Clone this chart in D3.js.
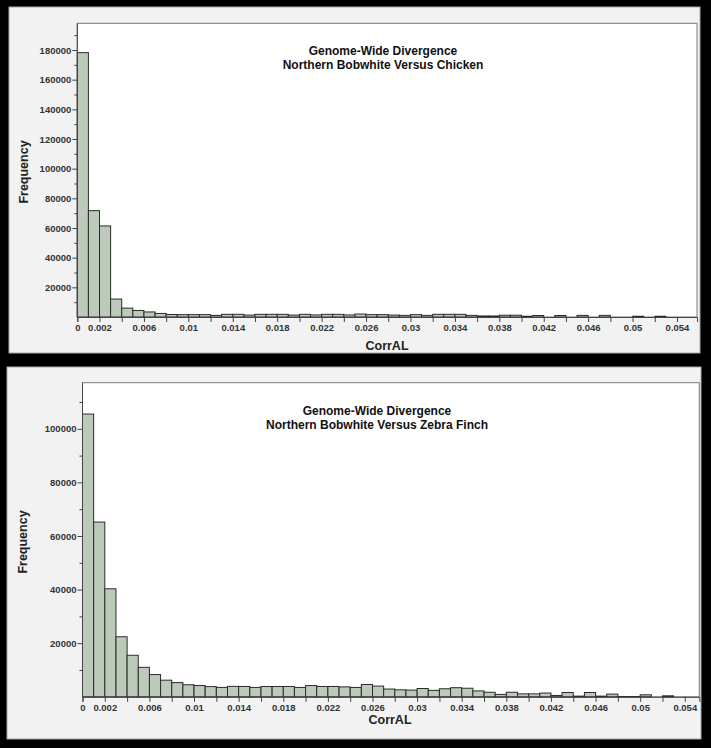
<!DOCTYPE html>
<html>
<head>
<meta charset="utf-8">
<script src="https://cdn.jsdelivr.net/npm/d3@7/dist/d3.min.js"></script>
<style>
  html, body { margin: 0; padding: 0; background: #000; }
  svg { display: block; }
  text { font-family: "Liberation Sans", Arial, sans-serif; }
</style>
</head>
<body>
<svg id="chart" width="711" height="748"></svg>
<script>
// ---- data ----
const binStarts = [0,0.001,0.002,0.003,0.004,0.005,0.006,0.007,0.008,0.009,
  0.010,0.011,0.012,0.013,0.014,0.015,0.016,0.017,0.018,0.019,
  0.020,0.021,0.022,0.023,0.024,0.025,0.026,0.027,0.028,0.029,
  0.030,0.031,0.032,0.033,0.034,0.035,0.036,0.037,0.038,0.039,
  0.040,0.041,0.042,0.043,0.044,0.045,0.046,0.047,0.048,0.049,
  0.050,0.051,0.052,0.053,0.054];
const binWidth = 0.001;

const chickenFreq = [178200,71700,61400,12100,6000,4400,3400,2400,1700,1600,
  1600,1600,1100,1800,1800,1300,1800,1800,1800,1300,
  1800,1400,1800,1800,1400,2000,1600,1600,1300,1100,
  1600,1100,1800,1800,1800,1100,700,700,1200,1200,
  500,1000,0,1000,0,1100,0,1100,0,0,
  500,0,500,0,0];

const zebraFreq = [105500,65200,40300,22400,15500,11000,8300,6200,5300,4500,
  4200,3800,3500,3900,3850,3500,3850,3850,3850,3500,
  4200,3850,3850,3700,3500,4600,4000,2900,2600,2500,
  3100,2400,3000,3400,3200,2200,1700,900,1700,1100,
  1100,1400,500,1600,250,1600,250,1000,100,100,
  750,0,370,0,0];

const xTickMarks = [0,0.002,0.004,0.006,0.008,0.010,0.012,0.014,0.016,0.018,0.020,0.022,0.024,0.026,0.028,0.030,0.032,0.034,0.036,0.038,0.040,0.042,0.044,0.046,0.048,0.050,0.052,0.054];
const xTickLabels = ["0","0.002","0.006","0.01","0.014","0.018","0.022","0.026","0.03","0.034","0.038","0.042","0.046","0.05","0.054"];

const chickenYTicks = [20000,40000,60000,80000,100000,120000,140000,160000,180000];
const chickenYMinor = [10000,30000,50000,70000,90000,110000,130000,150000,170000,190000];
const zebraYTicks = [20000,40000,60000,80000,100000];
const zebraYMinor = [10000,30000,50000,70000,90000,110000];

const titleLine1 = "Genome-Wide Divergence";
const chickenTitle2 = "Northern Bobwhite Versus Chicken";
const zebraTitle2 = "Northern Bobwhite Versus Zebra Finch";
const xLabel = "CorrAL";
const yLabel = "Frequency";

// ---- layout ----
const svg = d3.select("#chart");

const panels = [
  {
    freq: chickenFreq, yTicks: chickenYTicks, yMinor: chickenYMinor, title2: chickenTitle2,
    bg: {x: 9, y: 7, w: 691, h: 346},
    plot: {l: 77.3, r: 697, t: 23.3, b: 317},
    xMax: 0.0558, yMax: 198000,
    titleX: 383, titleY: 55,
    yLabX: 28, yLabY: 172,
    xLabX: 387, xLabY: 350
  },
  {
    freq: zebraFreq, yTicks: zebraYTicks, yMinor: zebraYMinor, title2: zebraTitle2,
    bg: {x: 7, y: 367, w: 694, h: 372},
    plot: {l: 82.5, r: 699.3, t: 382.7, b: 696.8},
    xMax: 0.0553, yMax: 117200,
    titleX: 377, titleY: 415,
    yLabX: 27, yLabY: 542,
    xLabX: 390, xLabY: 724
  }
];

panels.forEach(p => {
  const g = svg.append("g");
  // panel background
  g.append("rect")
    .attr("x", p.bg.x).attr("y", p.bg.y)
    .attr("width", p.bg.w).attr("height", p.bg.h)
    .attr("fill", "#f2f2f2").attr("stroke", "#a8a8a8").attr("stroke-width", 1);

  const x = d3.scaleLinear().domain([0, p.xMax]).range([p.plot.l, p.plot.r]);
  const y = d3.scaleLinear().domain([0, p.yMax]).range([p.plot.b, p.plot.t]);

  // plot area
  g.append("rect")
    .attr("x", p.plot.l).attr("y", p.plot.t)
    .attr("width", p.plot.r - p.plot.l).attr("height", p.plot.b - p.plot.t)
    .attr("fill", "#ffffff").attr("stroke", "#7a7a7a").attr("stroke-width", 1);

  // bars
  g.append("g").selectAll("rect")
    .data(binStarts.map((s, i) => ({x0: s, x1: s + binWidth, v: p.freq[i]})).filter(d => d.v > 0))
    .join("rect")
    .attr("x", d => x(d.x0))
    .attr("y", d => y(d.v))
    .attr("width", d => x(d.x1) - x(d.x0))
    .attr("height", d => y(0) - y(d.v))
    .attr("fill", "#bccbb9")
    .attr("stroke", "#2b2b2b")
    .attr("stroke-width", 1);

  // x axis
  const xAxis = d3.axisBottom(x)
    .tickValues(xTickMarks)
    .tickSize(5)
    .tickFormat(d => {
      const lbl = xTickLabels.find(l => Math.abs(+l - d) < 1e-9);
      return lbl === undefined ? "" : lbl;
    });
  const gx = g.append("g").attr("transform", `translate(0,${p.plot.b})`).call(xAxis);
  gx.select(".domain").attr("stroke", "#444");
  gx.selectAll(".tick line").attr("stroke", "#444");
  gx.selectAll(".tick text")
    .attr("font-family", "Liberation Sans, Arial, sans-serif")
    .attr("font-size", "9.5px").attr("font-weight", "bold").attr("fill", "#333")
    .attr("dy", "0.75em").attr("y", 7);

  // y axis major
  const yAxis = d3.axisLeft(y).tickValues(p.yTicks).tickSize(5).tickFormat(d3.format("d"));
  const gy = g.append("g").attr("transform", `translate(${p.plot.l},0)`).call(yAxis);
  gy.select(".domain").remove();
  gy.selectAll(".tick line").attr("stroke", "#444");
  gy.selectAll(".tick text")
    .attr("font-family", "Liberation Sans, Arial, sans-serif")
    .attr("font-size", "9.5px").attr("font-weight", "bold").attr("fill", "#333")
    .attr("x", -6);
  // y minor ticks
  const yAxisMinor = d3.axisLeft(y).tickValues(p.yMinor).tickSize(3).tickFormat("");
  const gym = g.append("g").attr("transform", `translate(${p.plot.l},0)`).call(yAxisMinor);
  gym.select(".domain").remove();
  gym.selectAll(".tick line").attr("stroke", "#444");
  // left axis line
  g.append("line")
    .attr("x1", p.plot.l).attr("x2", p.plot.l)
    .attr("y1", p.plot.t).attr("y2", p.plot.b)
    .attr("stroke", "#444");

  // titles
  g.append("text").attr("x", p.titleX).attr("y", p.titleY)
    .attr("text-anchor", "middle").attr("font-size", "12px").attr("font-weight", "bold").attr("fill", "#111")
    .text(titleLine1);
  g.append("text").attr("x", p.titleX).attr("y", p.titleY + 14)
    .attr("text-anchor", "middle").attr("font-size", "12px").attr("font-weight", "bold").attr("fill", "#111")
    .text(p.title2);

  // axis labels
  g.append("text").attr("x", p.xLabX).attr("y", p.xLabY)
    .attr("text-anchor", "middle").attr("font-size", "12.5px").attr("font-weight", "bold").attr("fill", "#222")
    .text(xLabel);
  g.append("text")
    .attr("transform", `translate(${p.yLabX},${p.yLabY}) rotate(-90)`)
    .attr("text-anchor", "middle").attr("font-size", "12.5px").attr("font-weight", "bold").attr("fill", "#222")
    .text(yLabel);
});
</script>
</body>
</html>
